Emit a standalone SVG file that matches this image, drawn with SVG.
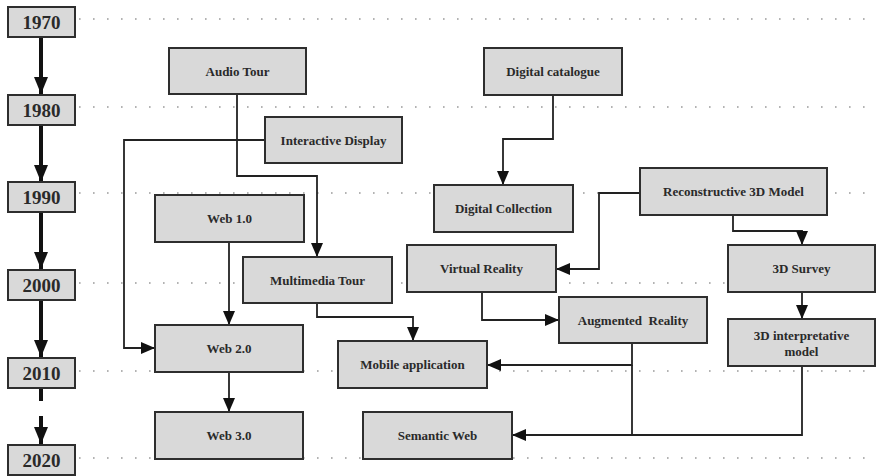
<svg xmlns="http://www.w3.org/2000/svg" width="876" height="476" viewBox="0 0 876 476">
  <style>
    .grid { stroke: #9a9a9a; stroke-width: 1.6; stroke-dasharray: 1.6 12.4; fill: none; }
    .box rect { fill: #d9d9d9; stroke: #2e2e2e; stroke-width: 2; }
    .box text { font-family: "Liberation Serif", "Times New Roman", serif; font-weight: bold; font-size: 13px; fill: #2a2a2a; text-anchor: middle; dominant-baseline: central; }
    .year text { font-size: 19px; }
    .conn { stroke: #222; stroke-width: 1.8; fill: none; }
    .axis { stroke: #111; stroke-width: 4; fill: none; }
  </style>
  <defs>
    <marker id="arrow" markerUnits="userSpaceOnUse" markerWidth="14" markerHeight="12" viewBox="0 0 14 12" refX="14" refY="6" orient="auto">
      <polygon points="0,0 14,6 0,12" fill="#111"/>
    </marker>
    <marker id="axisArrow" markerUnits="userSpaceOnUse" markerWidth="17" markerHeight="14" viewBox="0 0 17 14" refX="17" refY="7" orient="auto">
      <polygon points="0,0 17,7 0,14" fill="#111"/>
    </marker>
  </defs>

  <rect width="876" height="476" fill="#ffffff"/>

  <!-- decade guide lines -->
  <g id="gridlines">
    <line class="grid" x1="79" y1="19" x2="876" y2="19"/>
    <line class="grid" x1="79" y1="107" x2="876" y2="107"/>
    <line class="grid" x1="79" y1="193" x2="876" y2="193"/>
    <line class="grid" x1="79" y1="283" x2="876" y2="283"/>
    <line class="grid" x1="79" y1="371" x2="876" y2="371"/>
    <line class="grid" x1="79" y1="458" x2="876" y2="458"/>
  </g>

  <!-- timeline axis -->
  <g id="timeline-axis">
    <line class="axis" x1="41" y1="38" x2="41" y2="94" marker-end="url(#axisArrow)"/>
    <line class="axis" x1="41" y1="126" x2="41" y2="182" marker-end="url(#axisArrow)"/>
    <line class="axis" x1="41" y1="212" x2="41" y2="269" marker-end="url(#axisArrow)"/>
    <line class="axis" x1="41" y1="300" x2="41" y2="357" marker-end="url(#axisArrow)"/>
    <line class="axis" x1="41" y1="388" x2="41" y2="401"/>
    <line class="axis" x1="41" y1="416" x2="41" y2="444" marker-end="url(#axisArrow)"/>
  </g>

  <!-- connectors -->
  <g id="connectors">
    <polyline class="conn" points="237,94 237,176 317,176 317,257" marker-end="url(#arrow)"/>
    <polyline class="conn" points="265,140 124,140 124,348 155,348" marker-end="url(#arrow)"/>
    <line class="conn" x1="229" y1="242" x2="229" y2="325" marker-end="url(#arrow)"/>
    <line class="conn" x1="229" y1="372" x2="229" y2="412" marker-end="url(#arrow)"/>
    <polyline class="conn" points="317,303 317,317 413,317 413,341" marker-end="url(#arrow)"/>
    <polyline class="conn" points="553,95 553,139 503,139 503,185" marker-end="url(#arrow)"/>
    <polyline class="conn" points="640,193 599,193 599,269 556,269" marker-end="url(#arrow)"/>
    <polyline class="conn" points="733,215 733,231 802,231 802,245" marker-end="url(#arrow)"/>
    <line class="conn" x1="802" y1="292" x2="802" y2="319" marker-end="url(#arrow)"/>
    <polyline class="conn" points="482,292 482,320 559,320" marker-end="url(#arrow)"/>
    <polyline class="conn" points="632,343 632,365 487,365" marker-end="url(#arrow)"/>
    <line class="conn" x1="632" y1="365" x2="632" y2="435"/>
    <polyline class="conn" points="802,366 802,435 512,435" marker-end="url(#arrow)"/>
  </g>

  <!-- decade markers -->
  <g id="y1970" class="box year"><rect x="8" y="7" width="67" height="30"/><text x="41.5" y="22.5">1970</text></g>
  <g id="y1980" class="box year"><rect x="8" y="95" width="67" height="30"/><text x="41.5" y="110.5">1980</text></g>
  <g id="y1990" class="box year"><rect x="8" y="182" width="67" height="30"/><text x="41.5" y="197.5">1990</text></g>
  <g id="y2000" class="box year"><rect x="8" y="270" width="67" height="30"/><text x="41.5" y="285.5">2000</text></g>
  <g id="y2010" class="box year"><rect x="8" y="358" width="67" height="30"/><text x="41.5" y="373.5">2010</text></g>
  <g id="y2020" class="box year"><rect x="8" y="445" width="67" height="30"/><text x="41.5" y="460.5">2020</text></g>

  <!-- technology nodes -->
  <g id="audio-tour" class="box"><rect x="169" y="48" width="137" height="46"/><text x="237.5" y="71">Audio Tour</text></g>
  <g id="interactive-display" class="box"><rect x="265" y="117" width="137" height="46"/><text x="333.5" y="140">Interactive Display</text></g>
  <g id="web-1" class="box"><rect x="155" y="195" width="149" height="47"/><text x="229.5" y="218.5">Web 1.0</text></g>
  <g id="multimedia-tour" class="box"><rect x="243" y="257" width="149" height="46"/><text x="317.5" y="280">Multimedia Tour</text></g>
  <g id="web-2" class="box"><rect x="155" y="325" width="148" height="47"/><text x="229" y="348.5">Web 2.0</text></g>
  <g id="web-3" class="box"><rect x="155" y="412" width="148" height="47"/><text x="229" y="435.5">Web 3.0</text></g>
  <g id="mobile-application" class="box"><rect x="338" y="341" width="149" height="47"/><text x="412.5" y="364.5">Mobile application</text></g>
  <g id="semantic-web" class="box"><rect x="363" y="412" width="149" height="47"/><text x="437.5" y="435.5">Semantic Web</text></g>
  <g id="digital-catalogue" class="box"><rect x="484" y="48" width="138" height="47"/><text x="553" y="71.5">Digital catalogue</text></g>
  <g id="digital-collection" class="box"><rect x="434" y="185" width="139" height="47"/><text x="503.5" y="208.5">Digital Collection</text></g>
  <g id="reconstructive-3d-model" class="box"><rect x="640" y="168" width="187" height="47"/><text x="733.5" y="191.5">Reconstructive 3D Model</text></g>
  <g id="virtual-reality" class="box"><rect x="407" y="245" width="149" height="47"/><text x="481.5" y="268.5">Virtual Reality</text></g>
  <g id="augmented-reality" class="box"><rect x="559" y="297" width="148" height="46"/><text x="633" y="320" style="white-space:pre">Augmented  Reality</text></g>
  <g id="survey-3d" class="box"><rect x="728" y="245" width="147" height="47"/><text x="801.5" y="268.5">3D Survey</text></g>
  <g id="interpretative-3d-model" class="box"><rect x="728" y="319" width="147" height="47"/><text x="801.5" y="335">3D interpretative</text><text x="801.5" y="351">model</text></g>
</svg>
